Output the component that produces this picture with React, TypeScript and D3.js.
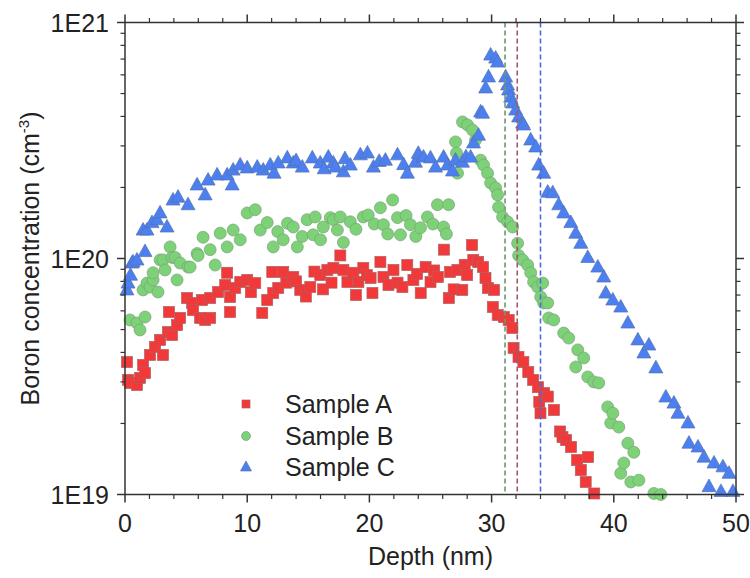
import React from "react";
import * as d3 from "d3";

// Concentrations are given in units of 1E19 cm^-3
const UNIT = 1e19;

const depthA = [0.16,0.25,0.41,0.98,1.23,1.48,1.64,2.05,2.46,2.87,3.11,3.52,3.6,3.85,4.26,4.51,5.08,5.49,5.57,6.15,6.31,6.56,6.97,6.97,7.62,8.2,8.36,8.6,8.6,9.02,9.43,10.0,10.3,10.66,11.23,11.64,12.05,12.13,12.54,12.95,13.2,13.77,14.0,14.34,14.8,15.16,15.5,15.98,16.2,16.56,16.9,17.05,17.62,17.87,18.2,18.69,18.9,19.1,19.5,19.8,20.1,20.25,20.9,21.15,21.56,21.97,22.3,22.7,23.1,23.6,23.9,24.2,24.6,25.0,25.3,25.6,26.1,26.5,26.6,26.9,27.2,27.6,27.8,28.0,28.4,28.5,28.9,29.3,29.5,29.7,30.1,30.2,30.5,31.0,31.4,31.7,31.8,32.2,32.6,33.0,33.4,33.8,33.9,34.0,34.3,34.6,35.1,35.6,35.8,36.1,36.5,37.0,37.3,37.7,37.9,38.4];
const concA = [3.64,3.06,2.97,2.91,3.12,3.54,3.27,3.9,4.22,4.52,3.9,4.88,5.93,4.74,5.22,5.6,6.8,6.48,6.05,5.6,6.67,5.49,5.6,6.8,7.21,7.72,8.7,6.87,5.93,7.5,7.95,8.11,7.2,7.87,5.88,6.67,8.77,7.14,7.5,8.77,7.9,8.35,8.0,7.36,6.9,7.57,8.8,8.51,7.4,8.94,7.9,9.12,10.3,8.94,7.95,8.7,7.0,7.95,9.12,8.5,8.27,7.14,9.67,8.35,7.72,8.94,7.9,7.57,9.38,8.11,8.6,7.14,9.2,7.95,8.9,8.35,10.9,6.8,8.77,7.4,8.94,7.36,9.4,8.51,11.4,9.86,9.67,9.2,8.27,7.5,6.23,7.36,5.76,5.65,5.49,5.08,4.18,3.83,3.64,3.3,3.06,2.85,2.47,2.21,2.69,2.6,2.28,1.85,1.75,1.7,1.59,1.4,1.27,1.13,1.44,1.01];

const depthB = [0.41,0.98,1.23,1.48,1.64,1.8,2.05,2.3,2.3,2.7,2.87,3.11,3.28,3.69,3.85,4.1,4.26,4.51,5.16,5.33,5.9,5.98,6.39,6.97,7.38,7.79,8.36,8.85,9.43,10.0,10.66,11.07,11.64,12.13,12.5,12.95,13.3,13.77,14.1,14.5,14.9,15.4,15.57,16.0,16.23,16.8,17.05,17.38,17.62,17.87,18.44,18.9,19.5,19.9,20.4,20.9,21.15,21.5,21.9,22.3,22.54,23.0,23.36,23.8,24.18,24.75,25.2,25.57,26.07,26.3,26.48,27.05,27.13,27.21,27.62,28.03,28.44,28.69,29.1,29.34,29.67,29.92,30.33,30.49,30.57,30.9,31.31,31.72,32.13,32.21,32.54,32.95,33.2,33.44,33.77,34.02,34.18,34.26,34.59,34.67,35.08,35.9,36.31,36.89,37.05,37.54,37.87,38.36,38.77,39.5,39.75,39.92,40.41,40.57,40.82,41.15,41.39,41.64,42.05,43.28,43.85];
const concB = [5.49,5.33,4.98,7.36,5.65,7.87,7.57,8.11,8.7,7.21,9.86,9.86,8.94,11.2,10.1,10.1,8.11,9.57,9.2,9.2,10.5,10.3,12.3,10.9,9.38,12.8,11.2,13.2,12.0,15.6,16.1,13.2,14.2,11.2,13.0,12.0,14.1,13.6,11.2,12.4,14.6,12.6,15.0,12.0,13.6,14.9,14.6,13.2,15.0,11.7,14.3,13.3,15.0,15.3,14.0,16.4,13.9,12.7,17.7,14.9,12.6,15.2,13.9,12.4,13.5,15.0,14.0,16.9,13.6,12.7,16.9,31.2,28.0,23.0,37.9,36.8,35.0,31.8,26.1,24.9,23.0,20.9,19.9,18.6,16.5,15.0,14.3,13.6,11.6,10.3,9.86,9.38,8.7,7.95,7.57,6.87,7.87,6.48,6.48,5.6,5.49,4.83,4.6,3.47,4.1,3.79,3.15,3.0,2.97,2.35,2.01,2.21,1.93,1.23,1.36,1.65,1.13,1.51,1.15,1.01,1.0];

const depthC = [0.16,0.25,0.45,0.57,0.66,0.98,1.48,1.64,1.8,2.21,2.62,2.87,3.44,3.93,4.34,5.16,5.9,6.56,6.8,7.54,8.36,8.77,8.85,9.43,10.0,10.82,11.31,11.89,12.2,12.54,13.28,13.77,14.0,14.51,15.33,15.98,16.3,16.64,17.05,17.21,17.87,18.0,18.44,19.26,19.84,20.33,20.8,21.31,22.3,22.8,23.11,23.77,24.0,24.43,25.0,25.41,26.07,26.39,26.8,27.05,27.62,27.9,28.28,28.52,28.93,29.1,29.26,29.51,29.75,29.92,30.33,30.49,31.15,31.31,31.39,31.56,31.72,31.97,32.21,32.54,32.62,33.2,33.61,33.85,34.26,34.59,35.0,35.49,35.9,36.48,36.89,37.3,37.87,38.69,39.18,39.34,39.92,40.57,41.15,41.97,42.46,42.87,43.44,44.26,44.92,45.25,46.07,46.15,46.89,47.38,47.79,48.2,48.77,48.93,49.43,49.75];
const concC = [7.36,7.87,8.5,9.57,9.67,9.86,13.2,10.7,13.2,14.2,14.6,15.6,13.6,17.7,18.2,16.9,20.5,18.6,21.5,22.6,22.6,20.5,23.7,24.9,24.2,24.4,23.7,24.9,23.0,25.4,26.7,25.4,26.0,24.4,26.7,25.4,24.0,26.9,25.4,24.4,23.3,26.5,24.9,27.5,28.0,24.4,25.8,26.1,27.5,25.0,23.0,25.6,27.9,26.9,26.7,24.4,26.9,24.9,23.5,26.1,25.6,27.0,26.9,30.9,33.3,41.8,41.3,52.8,58.8,72.8,70.7,68.0,58.8,54.4,51.8,48.3,45.6,42.6,39.8,37.5,36.8,31.8,29.7,24.9,23.0,19.1,19.0,16.9,15.6,14.2,12.8,11.6,10.1,9.2,8.35,7.14,6.67,6.23,5.33,4.52,3.98,4.3,3.44,2.59,2.44,2.21,2.01,1.65,1.59,1.44,1.08,1.36,1.03,1.31,1.23,1.03];

const seriesNames = ["Sample A", "Sample B", "Sample C"];
const markerLines = [31.1, 32.1, 34.0]; // dashed verticals (nm)
const xTicks = [0, 10, 20, 30, 40, 50];
const yTicks = [1e19, 1e20, 1e21];
const yTickLabels = ["1E19", "1E20", "1E21"];

const FONT = "'Liberation Sans', Arial, Helvetica, sans-serif";

const COL = {
  A: { fill: "#f23838", stroke: "#b06060" },
  B: { fill: "#7dd177", stroke: "#7aa07a" },
  C: { fill: "#4c80f0", stroke: "#5571b0" },
};
const lineColors = ["#6e9a6e", "#a05870", "#4a6ae0"];

function Square({ x, y, s, c }) {
  return <rect x={x - s / 2} y={y - s / 2} width={s} height={s} fill={c.fill} stroke={c.stroke} strokeWidth={0.7} />;
}
function Circle({ x, y, s, c }) {
  return <circle cx={x} cy={y} r={s / 2} fill={c.fill} stroke={c.stroke} strokeWidth={0.7} />;
}
function Tri({ x, y, s, c }) {
  const h = s * 0.9;
  const p = `${x},${y - h * 0.6} ${x + s / 2},${y + h * 0.4} ${x - s / 2},${y + h * 0.4}`;
  return <polygon points={p} fill={c.fill} stroke={c.stroke} strokeWidth={0.7} />;
}

export default function App() {
  const x = d3.scaleLinear().domain([0, 50]).range([125, 736]);
  const y = d3.scaleLog().domain([1e19, 1e21]).range([494.5, 22.5]);
  const x0 = 125, x1 = 736, y0 = 494.5, y1 = 22.5;

  const minorX = d3.range(0, 51, 2).filter((v) => v % 10 !== 0);
  const minorY: number[] = [];
  for (const dec of [1e19, 1e20]) for (let k = 2; k <= 9; k++) minorY.push(k * dec);

  const ptsA = depthA.map((d, i) => [x(d), y(concA[i] * UNIT)]);
  const ptsB = depthB.map((d, i) => [x(d), y(concB[i] * UNIT)]);
  const ptsC = depthC.map((d, i) => [x(d), y(concC[i] * UNIT)]);

  const axisColor = "#333";
  const legendY = [404, 436, 467];

  return (
    <svg width={750} height={578} style={{ position: "absolute", left: 0, top: 0, background: "#fff" }} fontFamily={FONT}>
      <rect x={0} y={0} width={750} height={578} fill="#fff" />
      {/* data */}
      {ptsA.map(([px, py], i) => <Square key={"a" + i} x={px} y={py} s={11} c={COL.A} />)}
      {ptsB.map(([px, py], i) => <Circle key={"b" + i} x={px} y={py} s={12} c={COL.B} />)}
      {ptsC.map(([px, py], i) => <Tri key={"c" + i} x={px} y={py} s={14} c={COL.C} />)}

      {/* dashed lines */}
      {markerLines.map((d, i) => (
        <line key={"ml" + i} x1={x(d)} x2={x(d)} y1={y1} y2={y0} stroke={lineColors[i]} strokeWidth={1.6} strokeDasharray="5,3" />
      ))}

      {/* frame */}
      <rect x={x0} y={y1} width={x1 - x0} height={y0 - y1} fill="none" stroke={axisColor} strokeWidth={1.5} />

      {/* x ticks bottom & top */}
      {xTicks.map((t) => (
        <g key={"xt" + t}>
          <line x1={x(t)} x2={x(t)} y1={y0} y2={y0 + 8} stroke={axisColor} strokeWidth={1.5} />
          <line x1={x(t)} x2={x(t)} y1={y1} y2={y1 - 8} stroke={axisColor} strokeWidth={1.5} />
          <text x={x(t)} y={532} textAnchor="middle" fontSize={25} fill="#222">{t}</text>
        </g>
      ))}
      {minorX.map((t) => (
        <g key={"xm" + t}>
          <line x1={x(t)} x2={x(t)} y1={y0} y2={y0 + 4.5} stroke={axisColor} strokeWidth={1.2} />
          <line x1={x(t)} x2={x(t)} y1={y1} y2={y1 - 4.5} stroke={axisColor} strokeWidth={1.2} />
        </g>
      ))}

      {/* y ticks left & right */}
      {yTicks.map((t, i) => (
        <g key={"yt" + i}>
          <line x1={x0} x2={x0 - 8} y1={y(t)} y2={y(t)} stroke={axisColor} strokeWidth={1.5} />
          <line x1={x1} x2={x1 + 8} y1={y(t)} y2={y(t)} stroke={axisColor} strokeWidth={1.5} />
          <text x={109} y={y(t) + 9} textAnchor="end" fontSize={25} fill="#222">{yTickLabels[i]}</text>
        </g>
      ))}
      {minorY.map((t, i) => (
        <g key={"ym" + i}>
          <line x1={x0} x2={x0 - 4.5} y1={y(t)} y2={y(t)} stroke={axisColor} strokeWidth={1.2} />
          <line x1={x1} x2={x1 + 4.5} y1={y(t)} y2={y(t)} stroke={axisColor} strokeWidth={1.2} />
        </g>
      ))}

      {/* axis titles */}
      <text x={x(25)} y={565} textAnchor="middle" fontSize={25} fill="#222">Depth (nm)</text>
      <text transform={`translate(39, ${(y0 + y1) / 2}) rotate(-90)`} textAnchor="middle" fontSize={25} fill="#222">
        Boron concentration (cm<tspan fontSize={15} dy={-10}>-3</tspan><tspan dy={10}>)</tspan>
      </text>

      {/* legend */}
      <Square x={246} y={legendY[0]} s={8} c={COL.A} />
      <Circle x={246} y={legendY[1]} s={9} c={COL.B} />
      <Tri x={246} y={legendY[2]} s={11} c={COL.C} />
      {seriesNames.map((n, i) => (
        <text key={n} x={285} y={legendY[i] + 9} fontSize={25} fill="#222">{n}</text>
      ))}
    </svg>
  );
}
